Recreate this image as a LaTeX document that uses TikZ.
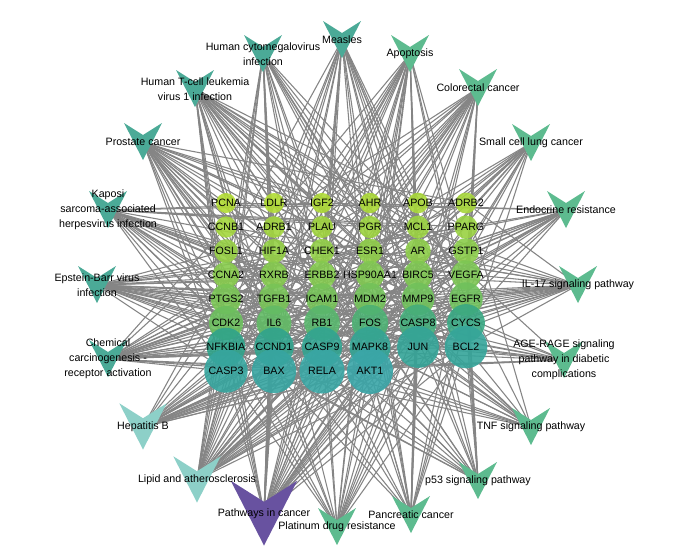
\documentclass[tikz,border=0pt]{standalone}
\usepackage{fontspec}
\setmainfont{Liberation Sans}
\usetikzlibrary{backgrounds}

\definecolor{GeneLime}{HTML}{B2DC33}
\definecolor{GeneGreen}{HTML}{6CBF5E}
\definecolor{GeneTeal}{HTML}{2FA38A}
\definecolor{GeneCyan}{HTML}{3AA6A8}
\definecolor{PwTeal}{HTML}{4BAA97}
\definecolor{PwGreen}{HTML}{5DBB8F}
\definecolor{PwLight}{HTML}{8DD0C8}
\definecolor{PwPurple}{HTML}{6852A0}
\definecolor{LinkGray}{HTML}{858585}

\tikzset{
  every node/.style = {font=\fontsize{8}{11.2}\selectfont, text=black},
  gene/.style = {circle, inner sep=0pt, draw=none, fill opacity=0.9},
  gene label/.style = {inner sep=0pt},
  pw label/.style = {align=center, inner sep=0pt},
  link/.style = {draw=LinkGray, line width=0.8pt},
  chevron/.pic = {\fill[#1] (-19,-19) -- (0,-7) -- (19,-19) -- (0,18) -- cycle;},
}

\newcommand{\GeneList}{PCNA,LDLR,IGF2,AHR,APOB,ADRB2,
  CCNB1,ADRB1,PLAU,PGR,MCL1,PPARG,
  FOSL1,HIF1A,CHEK1,ESR1,AR,GSTP1,
  CCNA2,RXRB,ERBB2,HSP90AA1,BIRC5,VEGFA,
  PTGS2,TGFB1,ICAM1,MDM2,MMP9,EGFR,
  CDK2,IL6,RB1,FOS,CASP8,CYCS,
  NFKBIA,CCND1,CASP9,MAPK8,JUN,BCL2,
  CASP3,BAX,RELA,AKT1}

\begin{document}
\begin{tikzpicture}[x=0.75pt,y=-0.75pt]
  \useasboundingbox (0,0) rectangle (677,553);
  \begin{scope}[on background layer]
    \fill[white] (0,0) rectangle (677,553);
  \end{scope}

  % pathways (outer ring)
  \foreach \px/\py/\ps/\pc [count=\p] in {
      342/40/1/PwTeal, 263/54/1/PwTeal, 195/89/1/PwTeal, 143/142/1/PwTeal,
      108/210/1/PwTeal, 97/285/1/PwTeal, 108/359/1/PwTeal,
      143/427/1.25/PwLight, 197/480/1.25/PwLight, 264/514/1.75/PwPurple,
      337/527/1/PwGreen, 411/515/1/PwGreen, 478/481/1/PwGreen,
      531/427/1/PwGreen, 564/360/1/PwGreen, 578/285/1/PwGreen,
      566/210/1/PwGreen, 531/143/1/PwGreen, 478/88/1/PwGreen,
      410/54/1/PwGreen} {
    \coordinate (p\p) at (\px,\py);
    \pic[scale=\ps] at (p\p) {chevron=\pc};
  }

  % genes (centre grid)
  \foreach \gname [count=\i from 0] in \GeneList {
    \pgfmathtruncatemacro\col{mod(\i,6)}
    \pgfmathtruncatemacro\row{int(\i/6)}
    \pgfmathsetlengthmacro\dia{1.5pt*(10+13*(\i/45)^1.5)}
    \ifnum\i<31
      \pgfmathtruncatemacro\mix{100*\i/30}\colorlet{gcol}{GeneGreen!\mix!GeneLime}
    \else\ifnum\i<37
      \pgfmathtruncatemacro\mix{100*(\i-30)/6}\colorlet{gcol}{GeneTeal!\mix!GeneGreen}
    \else
      \pgfmathtruncatemacro\mix{100*(\i-36)/9}\colorlet{gcol}{GeneCyan!\mix!GeneTeal}
    \fi\fi
    \node[gene, fill=gcol, minimum size=\dia] (g\i) at (226+48*\col, 203+24*\row) {};
  }
  \foreach \gname [count=\i from 0] in \GeneList
    \node[gene label] (t\i) at (g\i) {\gname};

  % pathway labels
  \foreach \ptext [count=\p] in {Measles, {Human cytomegalovirus\\infection},
      {Human T-cell leukemia\\virus 1 infection}, Prostate cancer,
      {Kaposi\\sarcoma-associated\\herpesvirus infection},
      {Epstein-Barr virus\\infection},
      {Chemical\\carcinogenesis -\\receptor activation},
      Hepatitis B, Lipid and atherosclerosis, Pathways in cancer,
      Platinum drug resistance, Pancreatic cancer, p53 signaling pathway,
      TNF signaling pathway,
      {AGE-RAGE signaling\\pathway in diabetic\\complications},
      IL-17 signaling pathway, Endocrine resistance, Small cell lung cancer,
      Colorectal cancer, Apoptosis}
    \node[pw label] (l\p) at (p\p) {\ptext};

  % links
  \pgfmathsetseed{2023}
  \begin{scope}[on background layer]
    \foreach \p/\base in {1/0.8,2/0.8,3/0.85,4/0.8,5/0.85,6/0.8,7/0.85,
        8/0.95,9/0.95,10/1.15,11/0.6,12/0.65,13/0.6,14/0.65,15/0.65,
        16/0.6,17/0.6,18/0.6,19/0.65,20/0.65} {
      \foreach \g in {0,...,45} {
        \pgfmathsetmacro\prob{\base*(0.2+1.0*\g/45)}
        \pgfmathsetmacro\roll{rnd}
        \ifdim\roll pt<\prob pt \draw[link] (p\p) -- (g\g); \fi
      }
    }
  \end{scope}
\end{tikzpicture}
\end{document}
